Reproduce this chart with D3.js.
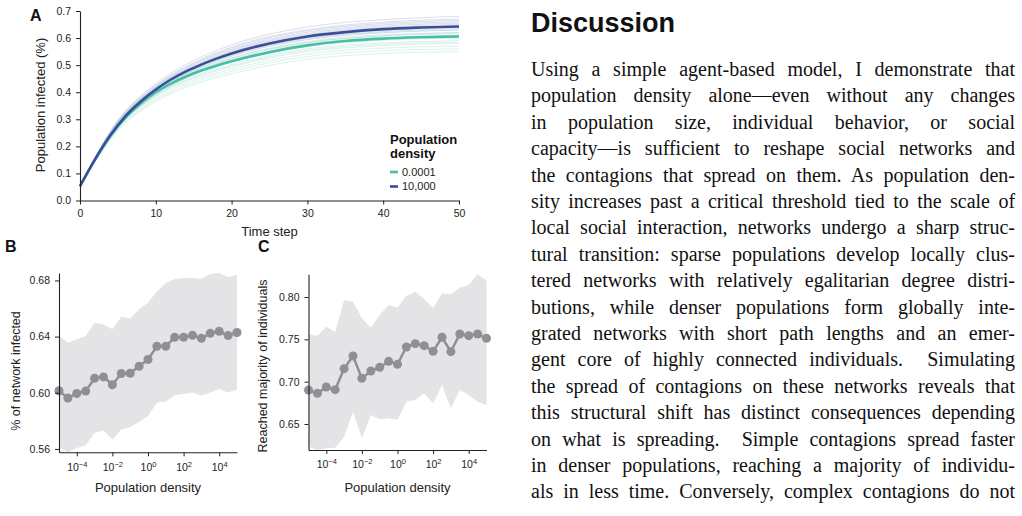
<!DOCTYPE html>
<html>
<head>
<meta charset="utf-8">
<script src="https://cdn.jsdelivr.net/npm/d3@7"></script>
<style>
  body { margin: 0; background: #fff; width: 1022px; height: 516px; overflow: hidden; }
  svg { display: block; }
</style>
</head>
<body>
<svg id="fig" width="1022" height="516"></svg>
<script>
// ---- Panel A data: time steps and fraction infected ----
var timeSteps = [0, 2, 4, 6, 8, 10, 12, 14, 16, 18, 20, 25, 30, 35, 40, 45, 50];
var meanLow  = [0.053, 0.152, 0.238, 0.306, 0.358, 0.400, 0.432, 0.458, 0.480, 0.498, 0.514, 0.548, 0.573, 0.589, 0.598, 0.603, 0.606];
var meanHigh = [0.053, 0.153, 0.241, 0.312, 0.366, 0.410, 0.447, 0.477, 0.502, 0.524, 0.543, 0.580, 0.606, 0.622, 0.633, 0.639, 0.643];
var runTimes = [0, 5, 10, 15, 20, 30, 40, 50];
var runsLow = [
  [0.053, 0.257, 0.365, 0.428, 0.468, 0.522, 0.543, 0.550],
  [0.053, 0.261, 0.371, 0.435, 0.477, 0.532, 0.553, 0.560],
  [0.053, 0.265, 0.377, 0.443, 0.485, 0.541, 0.563, 0.570],
  [0.053, 0.269, 0.384, 0.450, 0.493, 0.550, 0.572, 0.580],
  [0.053, 0.271, 0.387, 0.454, 0.497, 0.555, 0.577, 0.585],
  [0.053, 0.273, 0.390, 0.458, 0.502, 0.560, 0.582, 0.590],
  [0.053, 0.278, 0.396, 0.465, 0.510, 0.569, 0.592, 0.600],
  [0.053, 0.282, 0.402, 0.473, 0.518, 0.579, 0.602, 0.610],
  [0.053, 0.284, 0.406, 0.477, 0.522, 0.583, 0.607, 0.615],
  [0.053, 0.286, 0.409, 0.480, 0.527, 0.588, 0.612, 0.620],
  [0.053, 0.290, 0.415, 0.488, 0.535, 0.597, 0.621, 0.630],
  [0.053, 0.294, 0.421, 0.495, 0.543, 0.607, 0.631, 0.640]
];
var runsHigh = [
  [0.053, 0.270, 0.389, 0.465, 0.516, 0.575, 0.599, 0.610],
  [0.053, 0.274, 0.395, 0.472, 0.525, 0.584, 0.609, 0.620],
  [0.053, 0.277, 0.401, 0.480, 0.533, 0.594, 0.619, 0.630],
  [0.053, 0.280, 0.405, 0.483, 0.538, 0.599, 0.624, 0.635],
  [0.053, 0.281, 0.408, 0.487, 0.542, 0.603, 0.629, 0.640],
  [0.053, 0.283, 0.411, 0.491, 0.546, 0.608, 0.634, 0.645],
  [0.053, 0.285, 0.414, 0.494, 0.550, 0.613, 0.639, 0.650],
  [0.053, 0.287, 0.417, 0.498, 0.554, 0.617, 0.644, 0.655],
  [0.053, 0.289, 0.420, 0.502, 0.558, 0.622, 0.649, 0.660],
  [0.053, 0.291, 0.423, 0.506, 0.563, 0.627, 0.654, 0.665],
  [0.053, 0.293, 0.426, 0.509, 0.567, 0.631, 0.659, 0.670],
  [0.053, 0.297, 0.432, 0.517, 0.575, 0.641, 0.668, 0.680]
];
var legendTitle = ["Population", "density"];
var legendLabels = ["0.0001", "10,000"];

// ---- Panels B and C: density sweep (log10 of density) ----
var densityExp = [-5, -4.5, -4, -3.5, -3, -2.5, -2, -1.5, -1, -0.5, 0, 0.5, 1, 1.5, 2, 2.5, 3, 3.5, 4, 4.5, 5];
var infected   = [0.6014, 0.5962, 0.5995, 0.6012, 0.6103, 0.6113, 0.6057, 0.6137, 0.6139, 0.6189, 0.6237, 0.6331, 0.6331, 0.6395, 0.6395, 0.6410, 0.6388, 0.6424, 0.6438, 0.6407, 0.6429];
var infectedLo = [0.5619, 0.5576, 0.5607, 0.5626, 0.5715, 0.5732, 0.5667, 0.5739, 0.5756, 0.5792, 0.5835, 0.5931, 0.5936, 0.5984, 0.5991, 0.6002, 0.5979, 0.6002, 0.6026, 0.6002, 0.6022];
var infectedHi = [0.6405, 0.6357, 0.6381, 0.6405, 0.6498, 0.6486, 0.6453, 0.6541, 0.6529, 0.6594, 0.6642, 0.6721, 0.6781, 0.6810, 0.6817, 0.6817, 0.6812, 0.6846, 0.6853, 0.6822, 0.6841];
var majority   = [0.6902, 0.6862, 0.6937, 0.6906, 0.7154, 0.7303, 0.7039, 0.7126, 0.7169, 0.7240, 0.7205, 0.7409, 0.7449, 0.7425, 0.7358, 0.7524, 0.7354, 0.7563, 0.7543, 0.7563, 0.7512];
var majorityLo = [0.6232, 0.6193, 0.6213, 0.6220, 0.6350, 0.6646, 0.6331, 0.6606, 0.6555, 0.6567, 0.6547, 0.6764, 0.6783, 0.6862, 0.6744, 0.6961, 0.6685, 0.6902, 0.6843, 0.6764, 0.6724];
var majorityHi = [0.7563, 0.7543, 0.7650, 0.7591, 0.7965, 0.7945, 0.7748, 0.7638, 0.7787, 0.7906, 0.7874, 0.8016, 0.8063, 0.7976, 0.7866, 0.8043, 0.8031, 0.8110, 0.8142, 0.8268, 0.8189];
var logTicks = [1e-4, 1e-2, 1, 1e2, 1e4];
var ticksB = [0.56, 0.60, 0.64, 0.68];
var ticksC = [0.65, 0.70, 0.75, 0.80];

// ---- Discussion text, one entry per typeset line ----
var heading = "Discussion";
var bodyLines = [
  "Using a simple agent-based model, I demonstrate that",
  "population density alone\u2014even without any changes",
  "in population size, individual behavior, or social",
  "capacity\u2014is sufficient to reshape social networks and",
  "the contagions that spread on them. As population den-",
  "sity increases past a critical threshold tied to the scale of",
  "local social interaction, networks undergo a sharp struc-",
  "tural transition: sparse populations develop locally clus-",
  "tered networks with relatively egalitarian degree distri-",
  "butions, while denser populations form globally inte-",
  "grated networks with short path lengths and an emer-",
  "gent core of highly connected individuals.  Simulating",
  "the spread of contagions on these networks reveals that",
  "this structural shift has distinct consequences depending",
  "on what is spreading.  Simple contagions spread faster",
  "in denser populations, reaching a majority of individu-",
  "als in less time. Conversely, complex contagions do not"
];

var sans = "'Liberation Sans', Arial, Helvetica, sans-serif";
var serif = "'Liberation Serif', 'Times New Roman', serif";
var green = "#45c0a2";
var blue = "#3a4e9a";
var grey = "#8f8f95";
var band = "#e4e4e7";

var svg = d3.select("#fig");

function styleAxis(g) {
  g.select(".domain").attr("stroke", "#222").attr("stroke-width", 1.1);
  g.selectAll(".tick line").attr("stroke", "#222").attr("stroke-width", 1);
  g.selectAll(".tick text").attr("fill", "#222").style("font-family", sans).style("font-size", "10.5px");
}

function powerLabels(g) {
  g.selectAll(".tick text").each(function (d) {
    var e = Math.round(Math.log10(d));
    var t = d3.select(this).text(null);
    t.append("tspan").text("10");
    t.append("tspan").attr("dy", "-0.55em").style("font-size", "7.5px")
      .text(e < 0 ? "\u2212" + (-e) : String(e));
  });
}

// ================= Panel A =================
var xA = d3.scaleLinear().domain([0, 50]).range([80, 459]);
var yA = d3.scaleLinear().domain([0, 0.7]).range([200.5, 11]);

var lineA = d3.line().curve(d3.curveMonotoneX)
  .x(function (d) { return xA(d[0]); })
  .y(function (d) { return yA(d[1]); });

function pairs(xs, ys) { return xs.map(function (x, i) { return [x, ys[i]]; }); }

var gA = svg.append("g");
gA.selectAll(".runHigh").data(runsHigh).enter().append("path")
  .attr("fill", "none").attr("stroke", "#a3afd3").attr("stroke-opacity", 0.45).attr("stroke-width", 0.9)
  .attr("d", function (r) { return lineA(pairs(runTimes, r)); });
gA.selectAll(".runLow").data(runsLow).enter().append("path")
  .attr("fill", "none").attr("stroke", "#a6dfd1").attr("stroke-opacity", 0.45).attr("stroke-width", 0.9)
  .attr("d", function (r) { return lineA(pairs(runTimes, r)); });
gA.append("path").attr("fill", "none").attr("stroke", green).attr("stroke-width", 2.6)
  .attr("d", lineA(pairs(timeSteps, meanLow)));
gA.append("path").attr("fill", "none").attr("stroke", blue).attr("stroke-width", 2.6)
  .attr("d", lineA(pairs(timeSteps, meanHigh)));

svg.append("g").attr("transform", "translate(0," + yA(0) + ")")
  .call(d3.axisBottom(xA).tickValues([0, 10, 20, 30, 40, 50]).tickSize(4).tickPadding(5).tickSizeOuter(0))
  .call(styleAxis);
svg.append("g").attr("transform", "translate(" + xA(0) + ",0)")
  .call(d3.axisLeft(yA).tickValues([0, 0.1, 0.2, 0.3, 0.4, 0.5, 0.6, 0.7]).tickFormat(d3.format(".1f"))
    .tickSize(4).tickPadding(5).tickSizeOuter(0))
  .call(styleAxis);

svg.append("text").attr("x", (xA(0) + xA(50)) / 2).attr("y", 236).attr("text-anchor", "middle")
  .style("font-family", sans).style("font-size", "13px").attr("fill", "#222").text("Time step");
svg.append("text").attr("transform", "translate(45,105) rotate(-90)").attr("text-anchor", "middle")
  .style("font-family", sans).style("font-size", "13px").attr("fill", "#222").text("Population infected (%)");

// legend
var leg = svg.append("g").attr("transform", "translate(390,0)");
leg.selectAll(".lt").data(legendTitle).enter().append("text")
  .attr("x", 0).attr("y", function (d, i) { return 144 + i * 14; })
  .style("font-family", sans).style("font-size", "13px").style("font-weight", "bold").attr("fill", "#111")
  .text(function (d) { return d; });
var legColors = [green, blue];
legendLabels.forEach(function (lab, i) {
  var yy = 172 + i * 14.5;
  leg.append("line").attr("x1", 0).attr("x2", 8).attr("y1", yy).attr("y2", yy)
    .attr("stroke", legColors[i]).attr("stroke-width", 2.6);
  leg.append("text").attr("x", 12).attr("y", yy + 3.8)
    .style("font-family", sans).style("font-size", "11px").attr("fill", "#222").text(lab);
});

svg.append("text").attr("x", 30).attr("y", 21).style("font-family", sans).style("font-size", "16px")
  .style("font-weight", "bold").attr("fill", "#111").text("A");

// ================= Panels B and C =================
function densityPanel(opts) {
  var x = d3.scaleLog().domain([1e-5, 1e5]).range(opts.xr);
  var lo = d3.min(opts.lo), hi = d3.max(opts.hi);
  var y = d3.scaleLinear().domain([lo, hi]).range(opts.yr);
  var pts = densityExp.map(function (e, i) {
    return { d: Math.pow(10, e), v: opts.mean[i], lo: opts.lo[i], hi: opts.hi[i] };
  });
  var g = svg.append("g");
  g.append("path").datum(pts).attr("fill", band)
    .attr("d", d3.area().x(function (p) { return x(p.d); })
      .y0(function (p) { return y(p.lo); }).y1(function (p) { return y(p.hi); }));
  g.append("path").datum(pts).attr("fill", "none").attr("stroke", grey).attr("stroke-width", 2.5)
    .attr("d", d3.line().x(function (p) { return x(p.d); }).y(function (p) { return y(p.v); }));
  g.selectAll("circle").data(pts).enter().append("circle")
    .attr("cx", function (p) { return x(p.d); }).attr("cy", function (p) { return y(p.v); })
    .attr("r", 4.5).attr("fill", grey);

  svg.append("g").attr("transform", "translate(0," + opts.yr[0] + ")")
    .call(d3.axisBottom(x).tickValues(logTicks).tickSize(4).tickPadding(7).tickSizeOuter(0))
    .call(styleAxis).call(powerLabels);
  svg.append("g").attr("transform", "translate(" + opts.xr[0] + ",0)")
    .call(d3.axisLeft(y).tickValues(opts.ticks).tickFormat(d3.format(".2f")).tickSize(4).tickPadding(5).tickSizeOuter(0))
    .call(styleAxis);

  svg.append("text").attr("x", (opts.xr[0] + opts.xr[1]) / 2).attr("y", 492).attr("text-anchor", "middle")
    .style("font-family", sans).style("font-size", "13px").attr("fill", "#222").text("Population density");
  svg.append("text").attr("transform", "translate(" + opts.ylx + "," + opts.yly + ") rotate(-90)")
    .attr("text-anchor", "middle").style("font-family", sans).style("font-size", "12.5px").attr("fill", "#222")
    .text(opts.ylabel);
  svg.append("text").attr("x", opts.lx).attr("y", 252).style("font-family", sans).style("font-size", "16px")
    .style("font-weight", "bold").attr("fill", "#111").text(opts.letter);
}

densityPanel({ xr: [59, 237], yr: [452.3, 273], mean: infected, lo: infectedLo, hi: infectedHi,
  ticks: ticksB, ylabel: "% of network infected", ylx: 20, yly: 371, lx: 5, letter: "B" });
densityPanel({ xr: [308.5, 486.5], yr: [450, 274.3], mean: majority, lo: majorityLo, hi: majorityHi,
  ticks: ticksC, ylabel: "Reached majority of individuals", ylx: 267, yly: 366, lx: 258, letter: "C" });

// ================= Discussion text =================
var textLeft = 531, textWidth = 484;
svg.append("text").attr("x", textLeft).attr("y", 32).style("font-family", sans).style("font-size", "27px")
  .style("font-weight", "bold").attr("fill", "#111").text(heading);

var body = svg.append("g");
bodyLines.forEach(function (ln, i) {
  var t = body.append("text").attr("x", textLeft).attr("y", 76 + i * 26.4)
    .style("font-family", serif).style("font-size", "20px").attr("fill", "#111")
    .attr("xml:space", "preserve").text(ln);
  var natural = t.node().getComputedTextLength();
  var gaps = (ln.match(/ /g) || []).length;
  if (gaps > 0) t.attr("word-spacing", ((textWidth - natural) / gaps).toFixed(2));
});
</script>
</body>
</html>
